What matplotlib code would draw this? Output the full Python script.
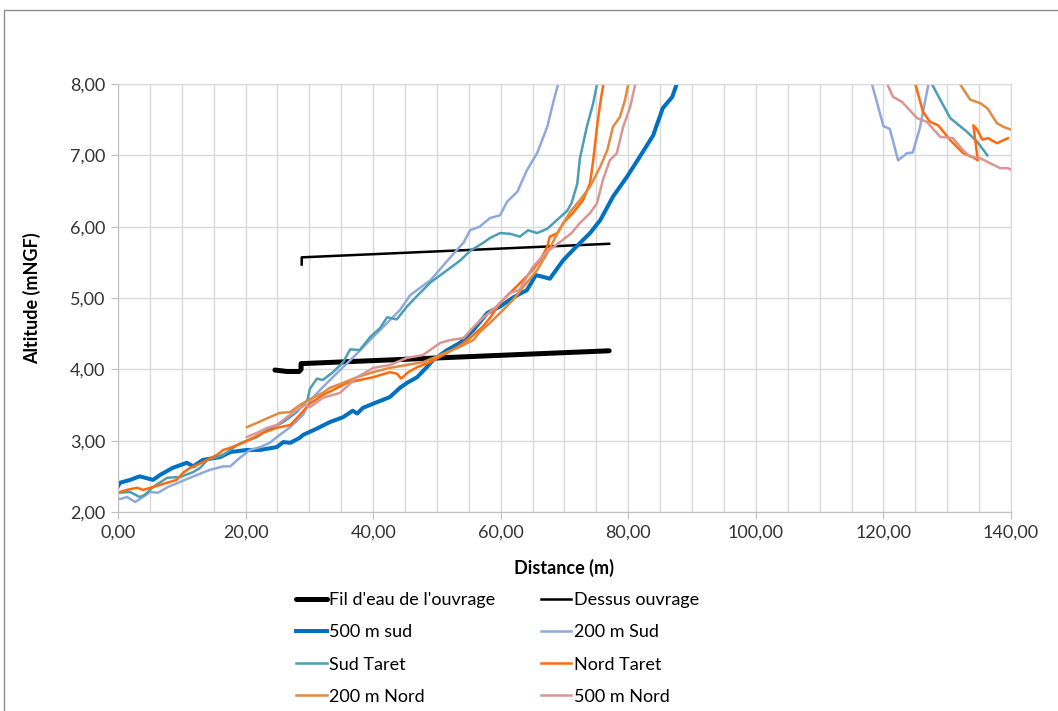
import numpy as np
import matplotlib
matplotlib.use('Agg')
from matplotlib import pyplot as plt
from matplotlib.ticker import MultipleLocator, FuncFormatter
from matplotlib.patches import Rectangle

nan = np.nan

# Fil d'eau de l'ouvrage / Dessus ouvrage
fil_x = [24.6, 26.5, 28.4, 28.7, 28.7, 77.0]
fil_y = [3.99, 3.97, 3.97, 4.00, 4.08, 4.26]
dessus_x = [28.8, 28.8, 77.0]
dessus_y = [5.47, 5.57, 5.76]

# 500 m sud
sud500_x = [0, 0.3, 1.9, 3.4, 5.5, 6.6, 8.6, 10.8, 11.8, 13.3, 16, 17.6, 20.2, 22.3, 24.9, 25.9, 27,
            28.5, 29.0, 31.2, 33.2, 35.3, 36.8, 37.5, 38.4, 40.6, 42.6, 44.2, 45.3, 46.9, 48.4, 49.4,
            51.6, 53.6, 55.7, 57.9, 59.9, 62, 64.1, 65.5, 66.5, 67.7, 69.8, 71.3, 74, 75.6, 77.6, 79.8,
            81.8, 83.9, 85.4, 86.9, 87.6, 88.5]
sud500_y = [2.36, 2.41, 2.45, 2.50, 2.45, 2.52, 2.62, 2.69, 2.64, 2.73, 2.77, 2.84, 2.87, 2.87, 2.91, 2.98, 2.97,
            3.04, 3.08, 3.17, 3.26, 3.33, 3.42, 3.38, 3.46, 3.54, 3.61, 3.74, 3.81, 3.89, 4.03, 4.13,
            4.27, 4.37, 4.55, 4.79, 4.88, 5.01, 5.11, 5.32, 5.30, 5.27, 5.53, 5.67, 5.91, 6.09, 6.42, 6.70,
            6.98, 7.28, 7.66, 7.82, 8.0, 8.3]

# 200 m Sud
sud200_x = [0, 0.3, 1.4, 2.7, 3.9, 5, 6.3, 7.8, 9.7, 12.4, 14.4, 16.5, 17.6, 19.1, 20.7, 22.3, 23.8, 24.9,
            27, 29, 30.1, 32.1, 34.8, 36.9, 39.5, 42.2, 44.2, 45.8, 49, 52.1, 54.2, 55.2, 56.7, 58.3, 59.9,
            61, 62.6, 64.1, 65.7, 67.3, 68.2, 69, 69.8, nan,
            117.5, 118.2, 120, 121, 122.3, 123.7, 124.6, 125.7, 127, 127.4]
sud200_y = [2.19, 2.18, 2.21, 2.14, 2.21, 2.28, 2.27, 2.35, 2.42, 2.52, 2.59, 2.64, 2.64, 2.76, 2.87, 2.91, 2.97, 3.05,
            3.19, 3.36, 3.56, 3.75, 3.99, 4.17, 4.41, 4.65, 4.83, 5.04, 5.25, 5.57, 5.78, 5.95, 6.0, 6.12, 6.16,
            6.35, 6.49, 6.79, 7.03, 7.40, 7.73, 8.0, 8.3, nan,
            8.3, 8.0, 7.41, 7.37, 6.93, 7.03, 7.04, 7.38, 7.97, 8.3]

# Sud Taret
sudtaret_x = [0, 1.9, 3.4, 4.2, 5.5, 7.7, 9.7, 11.8, 12.9, 14, 15.5, 16.5, 18.7, 19.6, 21.8, 23.4, 25.9, 28,
              29.7, 30.1, 31.2, 32.1, 33.7, 35.3, 36.4, 37.9, 39.5, 41.1, 42.2, 43.7, 45.3, 46.9, 49, 51.6,
              53.7, 55.2, 57.2, 58.3, 59.9, 61.5, 63, 64.3, 65.7, 67.3, 68.9, 70.4, 71.1, 72.0, 72.4, 73.5,
              74.5, 75.1, 75.5, nan,
              127.3, 127.6, 128.9, 130.5, 133.1, 134.7, 136.3]
sudtaret_y = [2.27, 2.28, 2.21, 2.24, 2.35, 2.48, 2.49, 2.56, 2.62, 2.73, 2.77, 2.80, 2.94, 2.98, 3.05, 3.15, 3.26, 3.40,
              3.57, 3.73, 3.87, 3.85, 3.96, 4.10, 4.28, 4.27, 4.45, 4.58, 4.73, 4.70, 4.88, 5.03, 5.22, 5.39,
              5.53, 5.66, 5.77, 5.84, 5.91, 5.90, 5.86, 5.95, 5.91, 5.97, 6.10, 6.22, 6.33, 6.60, 6.95, 7.40,
              7.73, 8.0, 8.3, nan,
              8.3, 8.0, 7.78, 7.52, 7.33, 7.19, 7.0]

# Nord Taret
nordtaret_x = [0, 1.4, 3, 3.9, 5.5, 7.7, 9.2, 10.2, 11.3, 12.4, 13.3, 15.5, 16.5, 17.6, 19.6, 21.2, 22.7, 24.9,
               27, 28.5, 30.1, 32.1, 33.7, 35.9, 37.9, 40, 42.6, 43.7, 44.4, 45.5, 46.9, 48.9, 51, 53.2, 55.2,
               57.2, 58.3, 59.9, 61.9, 64.6, 66.2, 67.3, 67.7, 68.9, 69.8, 71.3, 72.9, 74, 74.5, 75.1, 75.6,
               76.1, 76.4, nan,
               124.6, 125, 126.2, 127.3, 128.6, 130.5, 132.5, 133.9, 134.8, 134.1, 134.7, 135.5, 136.4, 137.8,
               139.5]
nordtaret_y = [2.27, 2.31, 2.34, 2.31, 2.35, 2.41, 2.45, 2.55, 2.62, 2.66, 2.70, 2.80, 2.87, 2.90, 2.97, 3.04, 3.11, 3.18,
               3.22, 3.36, 3.52, 3.64, 3.71, 3.81, 3.85, 3.89, 3.96, 3.94, 3.87, 3.96, 4.03, 4.10, 4.20, 4.31, 4.44,
               4.60, 4.72, 4.93, 5.11, 5.35, 5.53, 5.72, 5.86, 5.91, 6.05, 6.19, 6.37, 6.61, 6.93, 7.40, 7.73,
               8.0, 8.3, nan,
               8.3, 8.0, 7.61, 7.47, 7.42, 7.21, 7.03, 6.98, 6.93, 7.42, 7.36, 7.22, 7.24, 7.17,
               7.24]

# 200 m Nord
nord200_x = [20.2, 21.8, 23.8, 25.4, 27, 28.5, 30.1, 32.1, 33.2, 35.3, 37.5, 40, 42.6, 45.2, 47.8, 50.5, 53.2,
             55.7, 56.7, 58.3, 59.9, 61.9, 63.5, 65.7, 67.3, 68.9, 70.9, 72.4, 74, 75.6, 76.7, 77.6, 78.7,
             79.5, 80, 80.4, nan,
             131.5, 132, 133.6, 135.2, 136.3, 137.8, 138.8, 140]
nord200_y = [3.19, 3.25, 3.33, 3.39, 3.40, 3.50, 3.58, 3.67, 3.74, 3.81, 3.89, 3.96, 4.02, 4.06, 4.10, 4.20, 4.30,
             4.41, 4.52, 4.65, 4.79, 4.97, 5.15, 5.39, 5.63, 5.91, 6.21, 6.37, 6.56, 6.84, 7.07, 7.40, 7.54,
             7.78, 8.0, 8.3, nan,
             8.3, 8.0, 7.78, 7.73, 7.66, 7.45, 7.40, 7.36]

# 500 m Nord
nord500_x = [20.2, 21.8, 23.4, 24.9, 26.5, 28.1, 29.3, 30.1, 32.1, 34.8, 37.5, 40, 42.6, 45.3, 47.8, 50.5, 52.1,
             54.2, 55.7, 57.2, 59.2, 61.4, 62.9, 65, 67, 69.1, 71.1, 72.4, 74, 75.1, 76, 77.1, 78.2, 79.2,
             80.3, 81.1, 81.5, nan,
             120.3, 120.6, 121.5, 122.9, 125.3, 126.8, 128.9, 130.9, 132.5, 133.6, 135.2, 136.7, 138.3,
             139.5, 140]
nord500_y = [3.05, 3.11, 3.18, 3.22, 3.33, 3.43, 3.50, 3.47, 3.60, 3.67, 3.89, 4.02, 4.06, 4.16, 4.20, 4.37, 4.41,
             4.44, 4.59, 4.72, 4.87, 5.07, 5.11, 5.43, 5.63, 5.77, 5.91, 6.05, 6.19, 6.33, 6.65, 6.93, 7.03, 7.40,
             7.68, 8.0, 8.3, nan,
             8.3, 8.0, 7.82, 7.75, 7.52, 7.47, 7.26, 7.24, 7.07, 6.98, 6.96, 6.89, 6.82,
             6.82, 6.80]

plt.rcParams['font.family'] = ['Lato', 'DejaVu Sans']
plt.rcParams['lines.solid_joinstyle'] = 'round'

fig = plt.figure(figsize=(10.58, 7.11), dpi=100)
ax = fig.add_axes([118/1058, 1-512/711, (1011-118)/1058, (512-84)/711])

# chart area border
fig.patches.append(Rectangle((4/1058, -0.1), 1.2, 1.1 - 10/711, transform=fig.transFigure,
                             fill=False, edgecolor='#8c8c8c', lw=1.0))

l_fil, = ax.plot(fil_x, fil_y, color='black', lw=3.6, solid_capstyle='round', label="Fil d'eau de l'ouvrage")
l_des, = ax.plot(dessus_x, dessus_y, color='black', lw=1.8, label='Dessus ouvrage')
l_s500, = ax.plot(sud500_x, sud500_y, color='#0070C0', lw=2.9, label='500 m sud')
l_s200, = ax.plot(sud200_x, sud200_y, color='#8EA9DB', lw=1.8, label='200 m Sud')
l_st, = ax.plot(sudtaret_x, sudtaret_y, color='#4A9FB5', lw=1.8, label='Sud Taret')
l_nt, = ax.plot(nordtaret_x, nordtaret_y, color='#FF6A0D', lw=1.8, label='Nord Taret')
l_n200, = ax.plot(nord200_x, nord200_y, color='#E38A3F', lw=1.8, label='200 m Nord')
l_n500, = ax.plot(nord500_x, nord500_y, color='#D99694', lw=1.8, label='500 m Nord')

ax.set_xlim(0, 140)
ax.set_ylim(2, 8)
ax.xaxis.set_major_locator(MultipleLocator(20))
ax.xaxis.set_minor_locator(MultipleLocator(5))
ax.yaxis.set_major_locator(MultipleLocator(1))
fmt = FuncFormatter(lambda v, p: ('%.2f' % v).replace('.', ','))
ax.xaxis.set_major_formatter(fmt)
ax.yaxis.set_major_formatter(fmt)
ax.grid(True, which='both', color='#D9D9D9', lw=1.0)
ax.set_axisbelow(True)
ax.tick_params(which='major', length=5, color='#BFBFBF', labelsize=13, pad=4)
ax.tick_params(which='minor', length=0)
ax.tick_params(axis='both', labelcolor='#333333')
for s in ['top', 'right']:
    ax.spines[s].set_color('#D9D9D9')
for s in ['left', 'bottom']:
    ax.spines[s].set_color('#BFBFBF')

ax.set_xlabel('Distance (m)', fontsize=13, fontweight='bold', labelpad=13)
ax.set_ylabel('Altitude (mNGF)', fontsize=13, fontweight='bold', labelpad=21)

handles = [l_fil, l_s500, l_st, l_n200, l_des, l_s200, l_nt, l_n500]
fig.legend(handles, [h.get_label() for h in handles], ncol=2, loc='upper left',
           bbox_to_anchor=(296/1058, 1-592/711), frameon=False, fontsize=13,
           handlelength=1.7, handletextpad=0.15, labelspacing=0.9, columnspacing=2.5,
           borderpad=0, borderaxespad=0)

fig.savefig('out.png', dpi=100)
